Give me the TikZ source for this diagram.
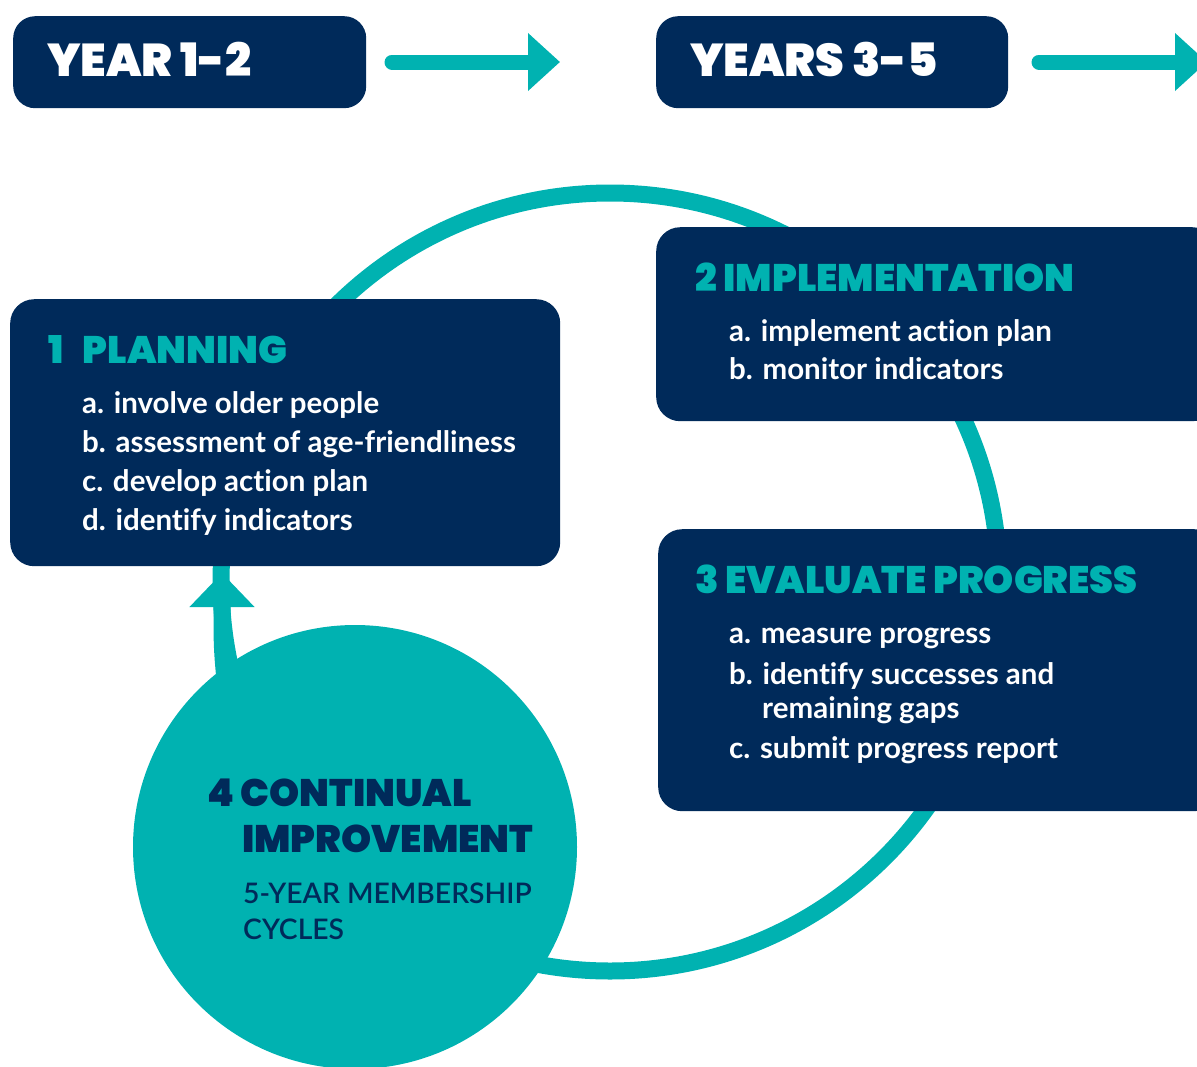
\documentclass[tikz,border=0pt]{standalone}
\usepackage{fontspec}
\usepackage{graphicx}
\usetikzlibrary{arrows.meta}
\newfontfamily\heavyf{Poppins Black}
\newfontfamily\bodyf{Lato Bold}[Ligatures=NoCommon]
\newfontfamily\subf{Lato Semibold}[Ligatures=NoCommon]
\definecolor{navyc}{HTML}{002A5A}
\definecolor{tealc}{HTML}{00B2B1}
\begin{document}
\begin{tikzpicture}[x=1pt,y=-1pt,
  box/.style={fill=navyc, rounded corners=24pt, inner sep=0, anchor=north west},
  yearlbl/.style={anchor=base west, text=white, font=\heavyf\fontsize{46}{46}\selectfont, inner sep=0},
  ttl/.style={anchor=base west, text=tealc, font=\heavyf\fontsize{38.3}{38}\selectfont, inner sep=0},
  ttlb/.style={anchor=base west, text=navyc, font=\heavyf\fontsize{38.3}{38}\selectfont, inner sep=0},
  sub/.style={anchor=base west, text=navyc, font=\subf\fontsize{28.3}{30}\selectfont, inner sep=0},
  item/.style={anchor=base west, text=white, font=\bodyf\fontsize{29.5}{30}\selectfont, inner sep=0},
  flow/.style={draw=tealc, line width=15pt, line cap=round, -{Triangle[length=32pt,width=56pt]}},
  flowb/.style={draw=tealc, line width=17pt, -{Triangle[length=34pt,width=63pt]}},
]
\useasboundingbox (0,0) rectangle (1197,1066);

% cycle ring
\node[circle, draw=tealc, line width=17pt, minimum size=778pt, inner sep=0] (ring) at (610,582) {};

% top row
\node[box, minimum width=353pt, minimum height=92pt, rounded corners=22pt] (y12) at (13,16) {};
\node[box, minimum width=352pt, minimum height=92pt, rounded corners=22pt] (y35) at (656,16) {};
\node[yearlbl] (t12) at (47,76) {YEAR 1-2};
\node[yearlbl] (t35) at (690,76) {YEARS 3-5};
\coordinate (a1s) at (392,62);
\coordinate (a1e) at (560,62);
\coordinate (a2s) at (1039,62);
\coordinate (a2e) at (1207,62);
\draw[flow] (a1s) -- (a1e);
\draw[flow] (a2s) -- (a2e);

% boxes
\node[box, minimum width=550pt, minimum height=267pt] (plan) at (10,299) {};
\node[box, minimum width=560pt, minimum height=194pt] (impl) at (656,227) {};
\node[box, minimum width=560pt, minimum height=282pt] (eval) at (658,529) {};

% continual improvement circle
\node[circle, fill=tealc, minimum size=444pt, inner sep=0] (ci) at (355,847) {};
\coordinate (sa) at (227,700);
\coordinate (se) at (222,573);
\draw[flowb] (sa) .. controls (222,650) .. (se);

% texts
\node[ttl] (p0) at (48,363) {1\hspace{13pt} PLANNING};
\node[item] (p1) at (82,413) {a. involve older people};
\node[item] (p2) at (82,452) {b. assessment of age-friendliness};
\node[item] (p3) at (82,491) {c. develop action plan};
\node[item] (p4) at (82,530) {d. identify indicators};

\node[ttl] (i0) at (695,291) {2 IMPLEMENTATION};
\node[item] (i1) at (729,341) {a. implement action plan};
\node[item] (i2) at (729,379) {b. monitor indicators};

\node[ttl] (e0) at (695,593) {3 EVALUATE PROGRESS};
\node[item] (e1) at (729,643) {a. measure progress};
\node[item] (e2) at (729,684) {b. identify successes and};
\node[item] (e3) at (762,718) {remaining gaps};
\node[item] (e4) at (729,758) {c. submit progress report};

\node[ttlb] (c0) at (207,806) {4 CONTINUAL};
\node[ttlb] (c1) at (242,852) {IMPROVEMENT};
\node[sub] (c2) at (243,903) {5-YEAR MEMBERSHIP};
\node[sub] (c3) at (243,939) {CYCLES};
\end{tikzpicture}
\end{document}
